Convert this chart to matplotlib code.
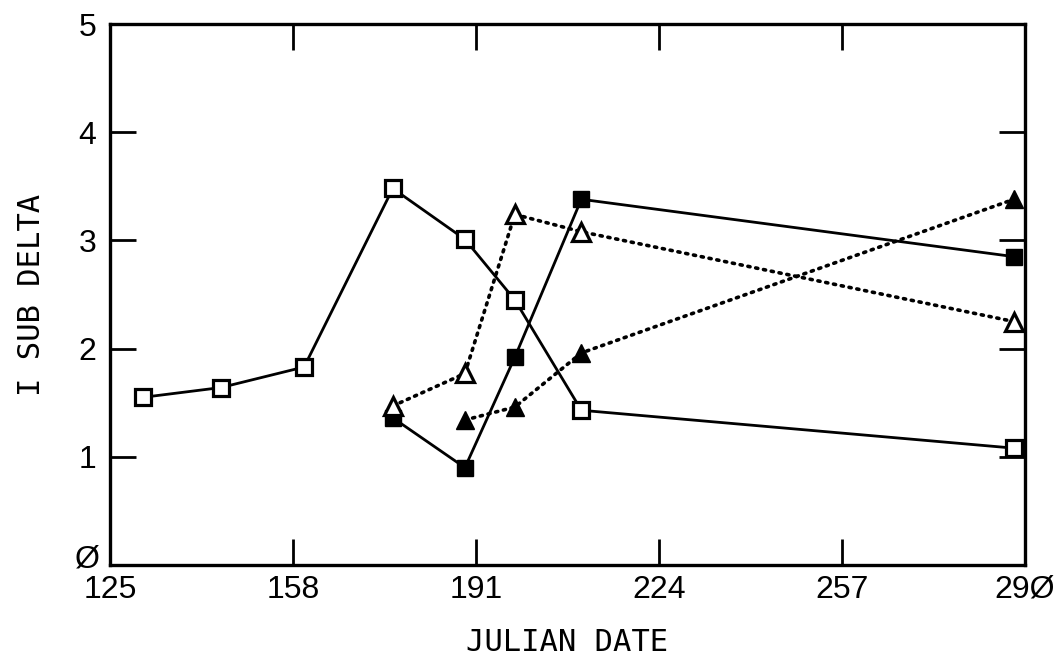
import matplotlib
matplotlib.use("Agg")
import matplotlib.pyplot as plt

# Julian date / I sub delta values
open_sq_x = [131, 145, 160, 176, 189, 198, 210, 288]
open_sq_y = [1.55, 1.64, 1.83, 3.48, 3.01, 2.45, 1.43, 1.08]

fill_sq_x = [176, 189, 198, 210, 288]
fill_sq_y = [1.36, 0.90, 1.92, 3.38, 2.85]

open_tri_x = [176, 189, 198, 210, 288]
open_tri_y = [1.47, 1.77, 3.24, 3.08, 2.25]

fill_tri_x = [189, 198, 210, 288]
fill_tri_y = [1.34, 1.46, 1.96, 3.38]

x_ticks = [125, 158, 191, 224, 257, 290]
x_labels = ["125", "158", "191", "224", "257", "29Ø"]
y_ticks = [0, 1, 2, 3, 4, 5]
y_labels = ["", "1", "2", "3", "4", "5"]
y_zero_label = "Ø"

tick_font = ["Liberation Sans", "DejaVu Sans"]
label_font = ["DejaVu Sans Mono", "DejaVu Sans"]

fig = plt.figure(figsize=(10.58, 6.65), dpi=100)
ax = fig.add_axes([110 / 1058, 100 / 665, 915 / 1058, 541 / 665])

lw = 2.0
dotted = (0, (0.6, 1.6))

ax.plot(open_sq_x, open_sq_y, color="black", lw=lw, marker="s", ms=11.5,
        mfc="white", mec="black", mew=2.3, zorder=3)
ax.plot(fill_sq_x, fill_sq_y, color="black", lw=lw, marker="s", ms=11.5,
        mfc="black", mec="black", zorder=3)
ax.plot(open_tri_x, open_tri_y, color="black", lw=lw + 0.6, ls=dotted,
        dash_capstyle="round", marker="^", ms=12.5, mfc="white", mec="black",
        mew=2.3, zorder=3)
ax.plot(fill_tri_x, fill_tri_y, color="black", lw=lw + 0.6, ls=dotted,
        dash_capstyle="round", marker="^", ms=12.5, mfc="black", mec="black",
        zorder=3)

ax.set_xlim(125, 290)
ax.set_ylim(0, 5)

ax.set_xticks(x_ticks)
ax.set_xticklabels(x_labels, family=tick_font, fontsize=23)
ax.set_yticks(y_ticks)
ax.set_yticklabels(y_labels, family=tick_font, fontsize=23)

# zero label sits a little above the corner, overlapping the 125 like the original
ax.annotate(y_zero_label, xy=(125, 0), xytext=(-7, 4), textcoords="offset points",
            ha="right", va="center", family=tick_font, fontsize=23,
            annotation_clip=False)

ax.tick_params(direction="in", length=19, width=2, top=True, right=True,
               color="black")
ax.tick_params(axis="x", pad=7)
ax.tick_params(axis="y", pad=10)

for s in ax.spines.values():
    s.set_linewidth(2.4)

ax.set_xlabel("JULIAN DATE", family=label_font, fontsize=22, labelpad=17)
ax.set_ylabel("I SUB DELTA", family=label_font, fontsize=22, labelpad=23)

fig.savefig("out.png", dpi=100)
